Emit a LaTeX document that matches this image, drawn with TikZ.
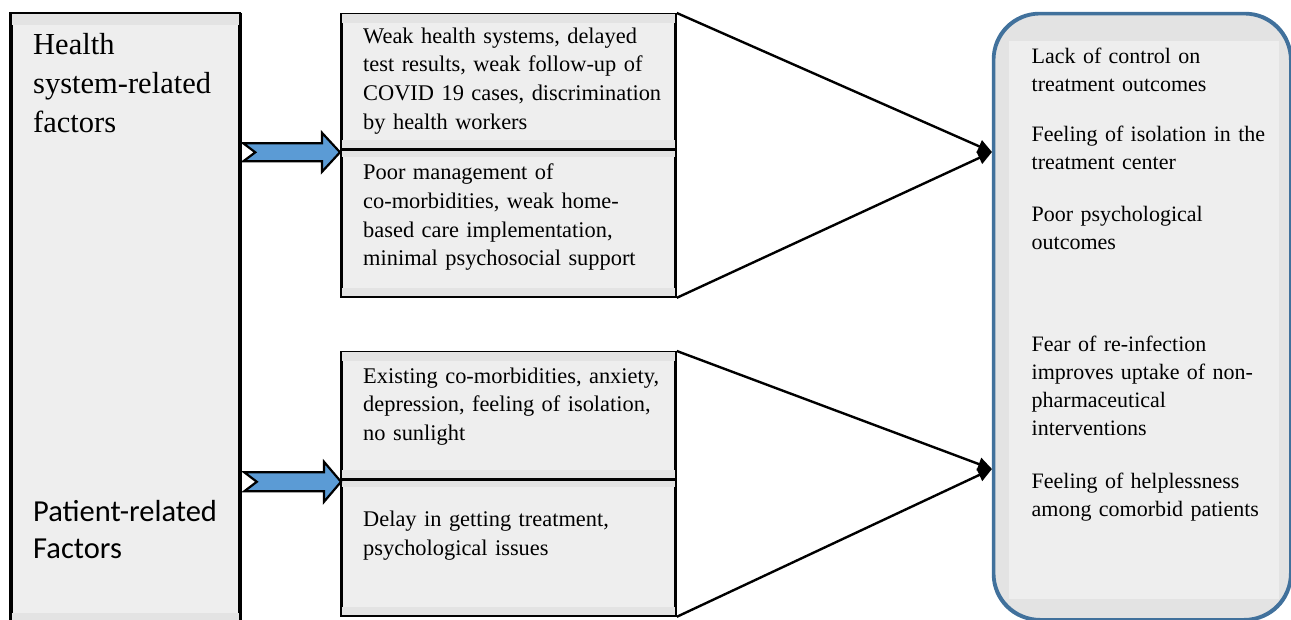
\documentclass[tikz,border=0pt]{standalone}
\usepackage{fontspec}
\setmainfont{Liberation Serif}
\newfontfamily\calib{Carlito}
\usetikzlibrary{arrows.meta,calc}
\definecolor{boxfill}{HTML}{EEEEEE}
\definecolor{bandfill}{HTML}{E3E3E3}
\definecolor{arrowblue}{HTML}{5B9BD5}
\definecolor{rimblue}{HTML}{41719C}
\tikzset{
  box/.style={rectangle, draw=black, line width=2.8pt, fill=boxfill, inner sep=0pt, anchor=north west},
  band/.style={fill=bandfill, draw=none},
  blockarrow/.style={draw=black, line width=2.2pt, fill=arrowblue, line join=miter},
  conn/.style={draw=black, line width=2.4pt, -{Triangle[length=14pt,width=13pt]}},
  midtext/.style={inner sep=0pt, anchor=base west, text width=310pt, align=left, font=\fontsize{22.4}{28.6}\selectfont},
  righttext/.style={inner sep=0pt, anchor=base west, text width=250pt, align=left, font=\fontsize{22.0}{28}\selectfont},
}
\begin{document}
\begin{tikzpicture}[x=1pt,y=-1pt]
\useasboundingbox (0,0) rectangle (1291,620);
\clip (0,0) rectangle (1291,620);

% left box
\node[box, minimum width=228pt, minimum height=640pt] (L) at (10,13) {};
\fill[band] ($(L.north west)+(1.5,1.5)$) rectangle ($(L.north east)+(-1.5,12)$);
\fill[band] ($(L.north west)+(1.5,600)$) rectangle ($(L.north east)+(-1.5,640)$);
\draw[black, line width=2.8pt] (L.south west) -- (L.north west) -- (L.north east);
\draw[black, line width=1.8pt] (L.north east) -- (L.south east);

% middle boxes
\node[box, minimum width=334pt, minimum height=134pt] (A1) at (340,13) {};
\node[box, minimum width=334pt, minimum height=148pt] (A2) at (340,147) {};
\node[box, minimum width=334pt, minimum height=126pt] (B1) at (340,351) {};
\node[box, minimum width=334pt, minimum height=137pt] (B2) at (340,477) {};
\foreach \n in {A1,A2,B1,B2}{
  \fill[band] ($(\n.north west)+(1.5,1.5)$) rectangle ($(\n.north east)+(-1.5,10)$);
  \fill[band] ($(\n.south west)+(1.5,-10)$) rectangle ($(\n.south east)+(-1.5,-1.5)$);
}
\draw[black, line width=3.4pt] (A1.south west) -- (A1.south east);
\draw[black, line width=2.8pt] (B1.south west) -- (B1.south east);

% right box
\node[rectangle, rounded corners=46pt, draw=rimblue, line width=2.4pt, fill=bandfill,
      minimum width=296pt, minimum height=605pt, anchor=north west, inner sep=0pt] (R) at (993,13) {};
\fill[boxfill] ($(R.north west)+(16,28)$) rectangle ($(R.south east)+(-12,-21)$);
\draw[rimblue, line width=2.4pt, rounded corners=46pt] (R.north west) rectangle (R.south east);

% texts left
\node[inner sep=0pt, anchor=base west, text width=220pt, align=left, font=\fontsize{30.5}{38.6}\selectfont] (Lt1) at (33,55)
  {Health\\system-related\\factors};
\node[inner sep=0pt, anchor=base west, text width=220pt, align=left, font=\calib\fontsize{30.5}{36.6}\selectfont] (Lt2) at (33,521.5)
  {Patient-related\\Factors};

% texts middle
\node[midtext] (a1t) at (363,43.3) {Weak health systems, delayed\\test results, weak follow-up of\\COVID 19 cases, discrimination\\by health workers};
\node[midtext] (a2t) at (363,180) {Poor management of\\co-morbidities, weak home-\\based care implementation,\\minimal psychosocial support};
\node[midtext] (b1t) at (363,383.3) {Existing co-morbidities, anxiety,\\depression, feeling of isolation,\\no sunlight};
\node[midtext] (b2t) at (363,526.7) {Delay in getting treatment,\\psychological issues};

% texts right
\node[righttext] (r1) at (1031.5,63.3) {Lack of control on\\treatment outcomes};
\node[righttext] (r2) at (1031.5,141.7) {Feeling of isolation in the\\treatment center};
\node[righttext] (r3) at (1031.5,221.7) {Poor psychological\\outcomes};
\node[righttext] (r4) at (1031.5,351.7) {Fear of re-infection\\improves uptake of non-\\pharmaceutical\\interventions};
\node[righttext] (r5) at (1031.5,488.3) {Feeling of helplessness\\among comorbid patients};

% block arrows
\path (A1.south west) ++(0,2.5) coordinate (h1tip);
\path (L.east |- h1tip) ++(2.5,0) coordinate (h1tail);
\draw[blockarrow] ($(h1tail)+(0,-9)$) -- ($(h1tail)+(12,0)$) -- ($(h1tail)+(0,9)$) -- ($(h1tip)+(-18,9)$)
  -- ($(h1tip)+(-18,19.5)$) -- (h1tip) -- ($(h1tip)+(-18,-19.5)$) -- ($(h1tip)+(-18,-9)$) -- cycle;
\path (B1.south west) ++(1,2) coordinate (h2tip);
\path (L.east |- h2tip) ++(3.5,0) coordinate (h2tail);
\draw[blockarrow] ($(h2tail)+(0,-9.5)$) -- ($(h2tail)+(12.5,0)$) -- ($(h2tail)+(0,9.5)$) -- ($(h2tip)+(-17,9.5)$)
  -- ($(h2tip)+(-17,20)$) -- (h2tip) -- ($(h2tip)+(-17,-20)$) -- ($(h2tip)+(-17,-9.5)$) -- cycle;

% connectors
\coordinate (t1) at ($(R.north west)+(-1,139)$);
\coordinate (t2) at ($(R.north west)+(-1,456)$);
\draw[conn] (A1.north east) -- (t1);
\draw[conn] (A2.south east) -- (t1);
\draw[conn] (B1.north east) -- (t2);
\draw[conn] (B2.south east) -- (t2);
\end{tikzpicture}
\end{document}
